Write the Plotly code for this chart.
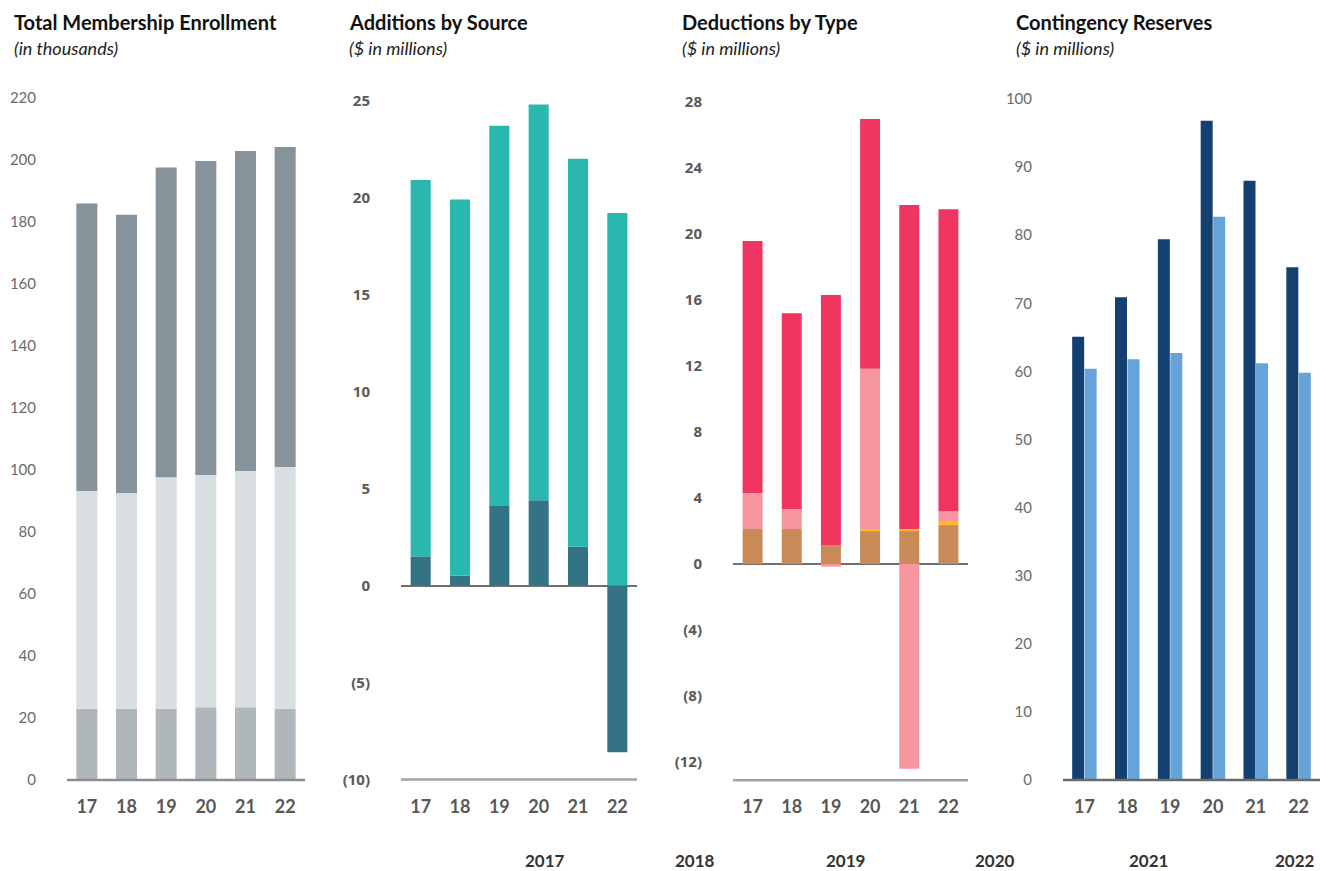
import plotly.graph_objects as go
import numpy as np

W, H = 1320, 871

years = ["17", "18", "19", "20", "21", "22"]

# Panel 1: Total Membership Enrollment (thousands)
enroll_bottom = [23.0, 23.0, 23.0, 23.5, 23.5, 23.0]
enroll_middle = [70.2, 69.6, 74.7, 74.9, 76.2, 78.0]
enroll_top = [92.8, 89.7, 99.9, 101.3, 103.2, 103.2]
enroll_ticks = [0, 20, 40, 60, 80, 100, 120, 140, 160, 180, 200, 220]
enroll_ticktext = ["0", "20", "40", "60", "80", "100", "120", "140", "160", "180", "200", "220"]

# Panel 2: Additions by Source ($ millions)
add_investment = [1.5, 0.5, 4.1, 4.4, 2.0, -8.6]
add_contrib = [19.4, 19.4, 19.6, 20.4, 20.0, 19.2]
add_ticks = [-10, -5, 0, 5, 10, 15, 20, 25]
add_ticktext = ["(10)", "(5)", "0", "5", "10", "15", "20", "25"]

# Panel 3: Deductions by Type ($ millions)
ded_brown = [2.12, 2.12, 1.15, 2.0, 2.0, 2.36]
ded_yellow = [0.0, 0.0, 0.0, 0.12, 0.12, 0.24]
ded_pink = [2.18, 1.21, -0.16, 9.72, -12.4, 0.6]
ded_red = [15.28, 11.87, 15.15, 15.13, 19.64, 18.3]
ded_ticks = [-12, -8, -4, 0, 4, 8, 12, 16, 20, 24, 28]
ded_ticktext = ["(12)", "(8)", "(4)", "0", "4", "8", "12", "16", "20", "24", "28"]

# Panel 4: Contingency Reserves ($ millions)
res_dark = [65.1, 70.9, 79.4, 96.8, 88.0, 75.3]
res_light = [60.4, 61.8, 62.7, 82.7, 61.2, 59.8]
res_ticks = [0, 10, 20, 30, 40, 50, 60, 70, 80, 90, 100]
res_ticktext = ["0", "10", "20", "30", "40", "50", "60", "70", "80", "90", "100"]

titles = ["Total Membership Enrollment", "Additions by Source",
          "Deductions by Type", "Contingency Reserves"]
subtitles = ["(in thousands)", "($ in millions)", "($ in millions)", "($ in millions)"]
bottom_years = ["2017", "2018", "2019", "2020", "2021", "2022"]


def px_x(v):
    return v / W


def px_y(v):
    return 1 - v / H


fig = go.Figure()

# ---- Panel 1 (stacked via base) ----
b1 = np.array(enroll_bottom)
m1 = np.array(enroll_middle)
t1 = np.array(enroll_top)
for vals, base, col in [(b1, np.zeros(6), "#B0B7BA"),
                        (m1, b1, "#D9DEE1"),
                        (t1, b1 + m1, "#86939A")]:
    fig.add_trace(go.Bar(x=years, y=vals, base=base, marker_color=col,
                         marker_line_width=0, width=0.53, offsetgroup="p1",
                         xaxis="x", yaxis="y", hoverinfo="skip"))

# ---- Panel 2 ----
inv = np.array(add_investment)
con = np.array(add_contrib)
fig.add_trace(go.Bar(x=years, y=inv, base=np.zeros(6), marker_color="#347383",
                     marker_line_width=0, width=0.51, offsetgroup="p2",
                     xaxis="x2", yaxis="y2", hoverinfo="skip"))
fig.add_trace(go.Bar(x=years, y=con, base=np.maximum(inv, 0), marker_color="#2AB7AE",
                     marker_line_width=0, width=0.51, offsetgroup="p2",
                     xaxis="x2", yaxis="y2", hoverinfo="skip"))

# ---- Panel 3 ----
br = np.array(ded_brown)
ye = np.array(ded_yellow)
pk = np.array(ded_pink)
rd = np.array(ded_red)
pos_pk = np.maximum(pk, 0)
for vals, base, col in [(br, np.zeros(6), "#C98A58"),
                        (ye, br, "#FBB829"),
                        (pk, np.where(pk >= 0, br + ye, 0), "#F7959F"),
                        (rd, br + ye + pos_pk, "#F03560")]:
    fig.add_trace(go.Bar(x=years, y=vals, base=base, marker_color=col,
                         marker_line_width=0, width=0.51, offsetgroup="p3",
                         xaxis="x3", yaxis="y3", hoverinfo="skip"))

# ---- Panel 4 (grouped) ----
fig.add_trace(go.Bar(x=years, y=res_dark, marker_color="#143F71", marker_line_width=0,
                     offsetgroup="d", xaxis="x4", yaxis="y4", hoverinfo="skip"))
fig.add_trace(go.Bar(x=years, y=res_light, marker_color="#65A3D8", marker_line_width=0,
                     offsetgroup="l", xaxis="x4", yaxis="y4", hoverinfo="skip"))

xtick_font = dict(family="Lato", size=18, color="#575757", weight="bold")


def xaxis(dom):
    return dict(domain=[px_x(dom[0]), px_x(dom[1])], type="category",
                showline=False, showgrid=False, zeroline=False, ticks="",
                automargin=False, tickfont=xtick_font, ticklabelstandoff=14,
                fixedrange=True)


def yaxis(dom, rng, tv, tt, font, zl=False):
    d = dict(domain=[px_y(dom[1]), px_y(dom[0])], range=rng,
             tickvals=tv, ticktext=tt, showgrid=False, showline=False,
             ticks="", tickfont=font, ticklabelstandoff=30, fixedrange=True,
             zeroline=zl, automargin=False)
    if zl:
        d.update(zerolinecolor="#707070", zerolinewidth=2)
    return d


light_font = dict(family="Lato", size=15, color="#6a6a6a")
bold_font = dict(family="Open Sans", size=15, color="#595959", weight="bold")

fig.update_layout(
    width=W, height=H,
    margin=dict(l=0, r=0, t=0, b=0, pad=0, autoexpand=False),
    paper_bgcolor="white", plot_bgcolor="white",
    showlegend=False,
    barmode="group", bargap=0.417, bargroupgap=0.04,
    xaxis=xaxis((67, 305)),
    yaxis=yaxis((98, 780), [0, 220], enroll_ticks, enroll_ticktext, light_font),
    xaxis2=xaxis((401, 637)),
    yaxis2=yaxis((100.5, 779.5), [-10, 25], add_ticks, add_ticktext, bold_font, zl=True),
    xaxis3=xaxis((733, 968)),
    yaxis3=yaxis((100.3, 780.2), [-13.1, 28.1], ded_ticks, ded_ticktext, bold_font, zl=True),
    xaxis4=xaxis((1063, 1320)),
    yaxis4=yaxis((99, 780), [0, 100], res_ticks, res_ticktext, light_font),
)
for i in range(1, 5):
    sfx = "" if i == 1 else str(i)
    fig.layout["xaxis" + sfx].anchor = "y" + sfx
    fig.layout["yaxis" + sfx].anchor = "x" + sfx

# bottom axis lines per panel
line_colors = ["#8d8d8d", "#a3a3a3", "#a3a3a3", "#6a6a6a"]
for i, lc in enumerate(line_colors, start=1):
    sfx = "" if i == 1 else str(i)
    fig.add_shape(type="line", xref="x" + sfx + " domain", yref="y" + sfx + " domain",
                  x0=0, x1=1, y0=0, y1=0, line=dict(color=lc, width=2.5), layer="above")

ann = []
title_x = [12, 347, 680, 1014]
for tx, t, s in zip(title_x, titles, subtitles):
    ann.append(dict(x=px_x(tx), y=px_y(22), xref="paper", yref="paper",
                    xanchor="left", yanchor="middle", showarrow=False, text=t,
                    font=dict(family="Lato", size=20, color="#111111", weight="bold")))
    ann.append(dict(x=px_x(tx), y=px_y(48), xref="paper", yref="paper",
                    xanchor="left", yanchor="middle", showarrow=False, text=s,
                    font=dict(family="Lato", size=18, color="#222222", style="italic")))
year_x = [545, 695, 845, 995, 1148, 1295]
for yx, yt in zip(year_x, bottom_years):
    ann.append(dict(x=px_x(yx), y=px_y(860), xref="paper", yref="paper",
                    xanchor="center", yanchor="middle", showarrow=False, text=yt,
                    font=dict(family="Lato", size=17, color="#333333", weight="bold")))
fig.update_layout(annotations=ann)

fig.write_html("out.html")
